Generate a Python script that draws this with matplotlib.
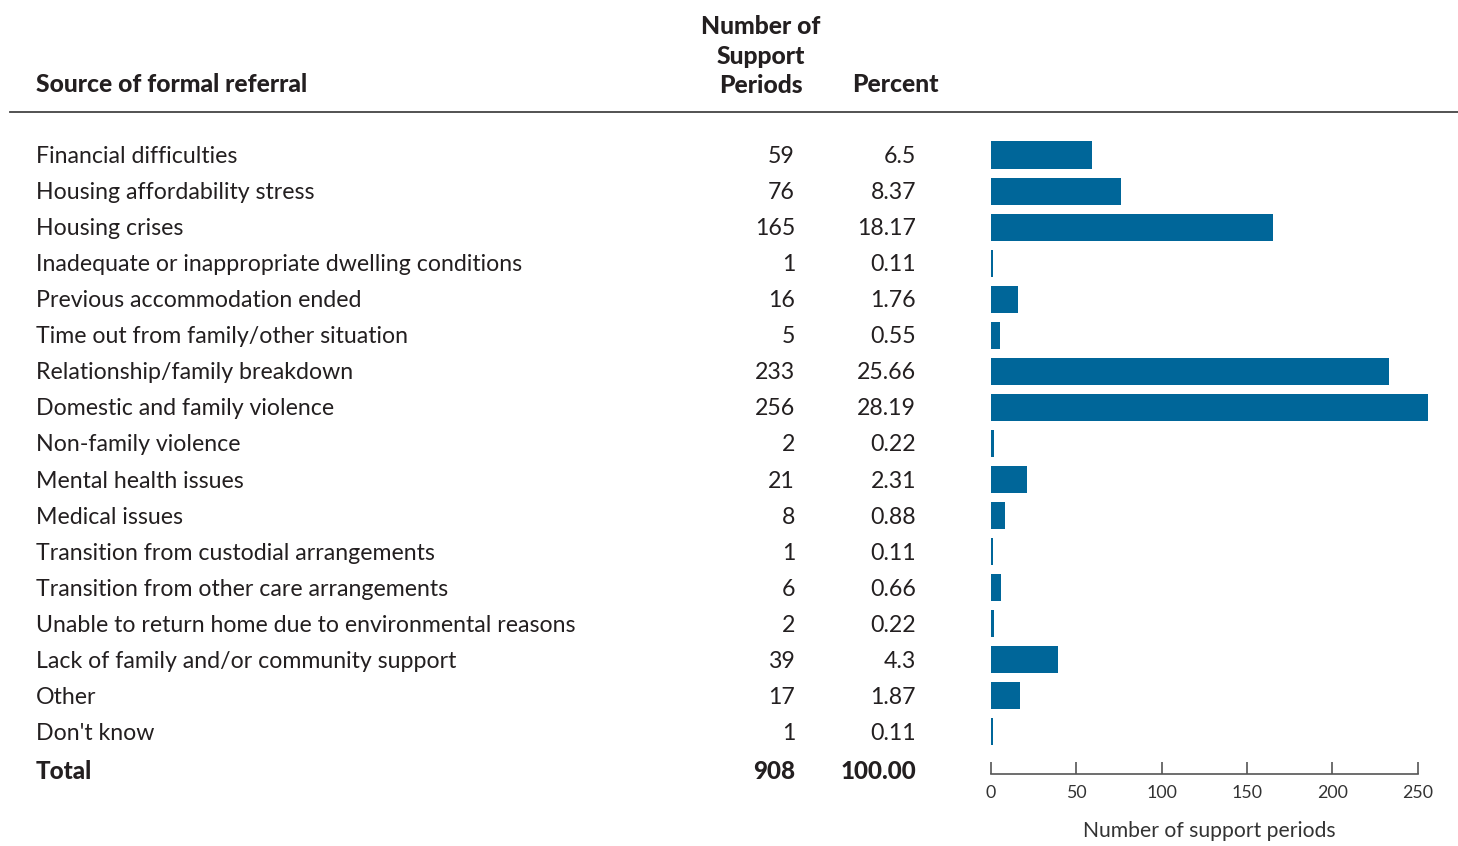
import numpy as np
import matplotlib
matplotlib.use("Agg")
import matplotlib.pyplot as plt
import matplotlib.transforms as mtransforms

# -------------------- Data --------------------
sources = [
    "Financial difficulties",
    "Housing affordability stress",
    "Housing crises",
    "Inadequate or inappropriate dwelling conditions",
    "Previous accommodation ended",
    "Time out from family/other situation",
    "Relationship/family breakdown",
    "Domestic and family violence",
    "Non-family violence",
    "Mental health issues",
    "Medical issues",
    "Transition from custodial arrangements",
    "Transition from other care arrangements",
    "Unable to return home due to environmental reasons",
    "Lack of family and/or community support",
    "Other",
    "Don't know",
]
periods = [59, 76, 165, 1, 16, 5, 233, 256, 2, 21, 8, 1, 6, 2, 39, 17, 1]
percents = ["6.5", "8.37", "18.17", "0.11", "1.76", "0.55", "25.66", "28.19",
            "0.22", "2.31", "0.88", "0.11", "0.66", "0.22", "4.3", "1.87", "0.11"]
total_periods = "908"
total_percent = "100.00"
x_ticks = [0, 50, 100, 150, 200, 250]

# -------------------- Style --------------------
W, H = 1458, 846
bar_color = "#006699"
text_color = "#231f20"
plt.rcParams['font.family'] = ['Lato', 'DejaVu Sans']

fig = plt.figure(figsize=(W / 100, H / 100), dpi=100)


def fx(px):
    return px / W


def fy(py):
    return 1 - py / H


# bar axes: rows at 155 px + 36.06 px per row
row0, step = 155, 36.06
ax_top, ax_bot = 137, 774
ax = fig.add_axes([fx(991), fy(ax_bot), fx(1428) - fx(991), (ax_bot - ax_top) / H])
y = np.arange(len(sources))
ax.barh(y, periods, height=0.75, color=bar_color)
ax.set_xlim(0, 256)
ax.set_ylim((ax_bot - row0) / step, (ax_top - row0) / step)

for s in ['top', 'right', 'left']:
    ax.spines[s].set_visible(False)
ax.spines['bottom'].set_bounds(0, 250)
ax.spines['bottom'].set_color('#555555')
ax.spines['bottom'].set_linewidth(1.2)
ax.set_yticks([])
ax.set_xticks(x_ticks)
ax.tick_params(axis='x', direction='in', length=9, width=1.2, color='#555555',
               labelsize=12.8, labelcolor='#333333', pad=8)
ax.set_xlabel("Number of support periods", fontsize=15.2, color='#333333', labelpad=14)

# table text: x in figure coords, y in row units
trans = mtransforms.blended_transform_factory(fig.transFigure, ax.transData)
dy = 1.5 / step
for i, (name, n, p) in enumerate(zip(sources, periods, percents)):
    ax.text(fx(36), i + dy, name, transform=trans, ha='left', va='center',
            fontsize=16.7, color=text_color, clip_on=False)
    ax.text(fx(795), i + dy, str(n), transform=trans, ha='right', va='center',
            fontsize=16.7, color=text_color, clip_on=False)
    ax.text(fx(916), i + dy, p, transform=trans, ha='right', va='center',
            fontsize=16.7, color=text_color, clip_on=False)

total_row = (771 - row0) / step
ax.text(fx(36), total_row, "Total", transform=trans, ha='left', va='center',
        fontsize=17.5, fontweight='black', color=text_color, clip_on=False)
ax.text(fx(795), total_row, total_periods, transform=trans, ha='right', va='center',
        fontsize=17.5, fontweight='black', color=text_color, clip_on=False)
ax.text(fx(916), total_row, total_percent, transform=trans, ha='right', va='center',
        fontsize=17.5, fontweight='black', color=text_color, clip_on=False)

# header
fig.text(fx(36), fy(85), "Source of formal referral", ha='left', va='center',
         fontsize=17.8, fontweight='black', color=text_color)
fig.text(fx(761), fy(56), "Number of\nSupport\nPeriods", ha='center', va='center',
         fontsize=17.8, fontweight='black', color=text_color, linespacing=1.33)
fig.text(fx(895), fy(85), "Percent", ha='center', va='center',
         fontsize=17.8, fontweight='black', color=text_color)
fig.add_artist(plt.Line2D([fx(10), fx(1458)], [fy(112), fy(112)],
                          transform=fig.transFigure, color='#444444', linewidth=1.3))

fig.savefig("out.png", dpi=100)
